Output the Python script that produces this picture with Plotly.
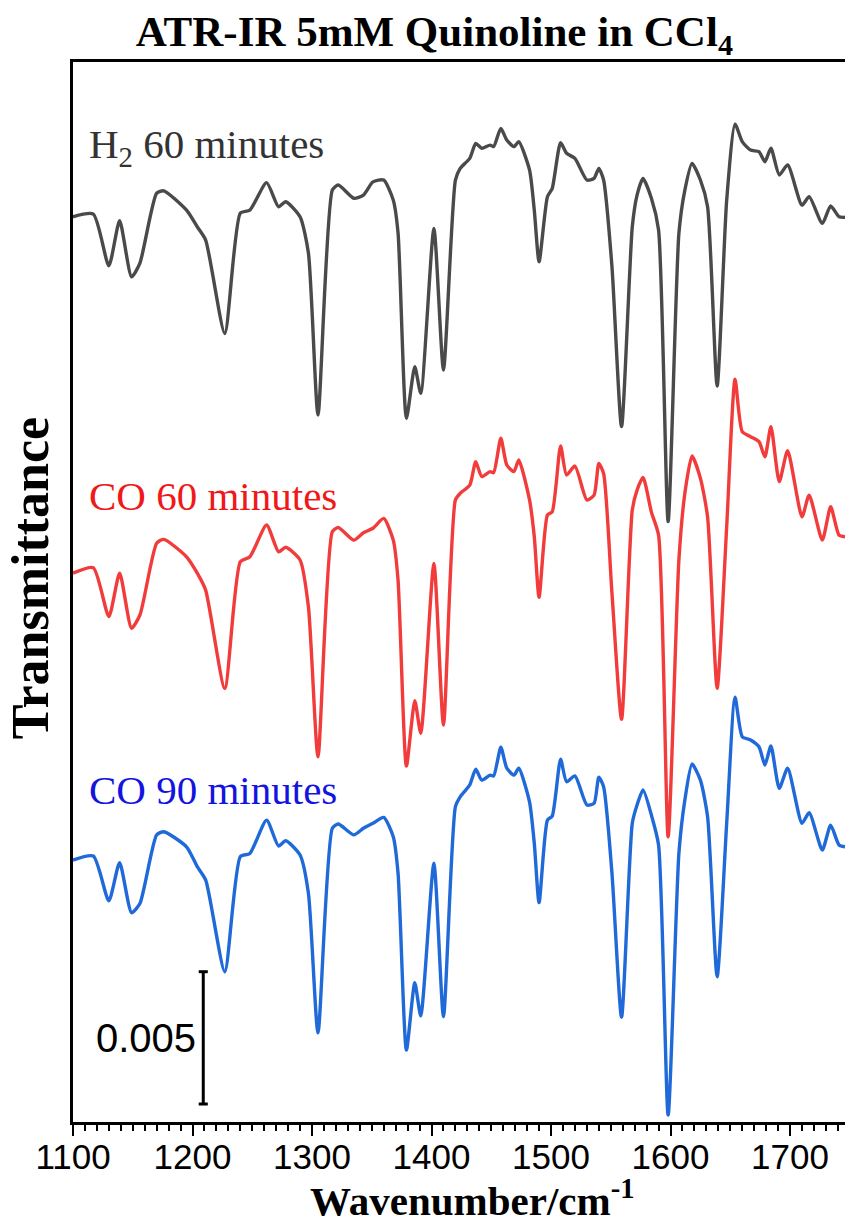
import plotly.graph_objects as go

# Wavenumber grid (cm^-1)
wavenumber = [1100, 1117, 1130, 1139, 1149, 1156, 1170, 1176, 1195, 1204,
              1211, 1227, 1240, 1248, 1262, 1272, 1278, 1290, 1297, 1305,
              1317, 1322, 1335, 1343, 1351, 1360, 1368, 1372, 1379, 1386,
              1391, 1402, 1410, 1420, 1424, 1432, 1437, 1442, 1449, 1452,
              1458, 1463, 1469, 1473, 1482, 1486, 1490, 1497, 1501, 1508,
              1513, 1520, 1530, 1536, 1540, 1544, 1551, 1559, 1568, 1572,
              1577, 1584, 1590, 1598, 1607, 1612, 1618, 1625, 1631, 1639,
              1647, 1654, 1660, 1667, 1674, 1679, 1684, 1691, 1698, 1710,
              1716, 1727, 1734, 1741, 1746]

# Transmittance (x 10^-3, stacked with offsets as plotted)
h2_60 = [34.21, 34.31, 32.36, 34.06, 31.94, 32.46, 35.10, 35.19, 34.46, 33.83,
         33.33, 29.80, 34.35, 34.46, 35.50, 34.59, 34.78, 34.21, 32.84, 26.72,
         35.22, 35.41, 34.91, 35.03, 35.53, 35.60, 34.84, 33.60, 26.59, 28.54,
         27.54, 33.77, 28.42, 35.60, 36.04, 36.42, 36.98, 36.80, 36.92, 36.86,
         37.55, 37.11, 36.86, 37.05, 35.98, 34.46, 32.51, 34.97, 35.28, 37.01,
         36.61, 36.42, 35.60, 35.66, 36.04, 35.60, 32.32, 26.28, 33.83, 35.03,
         35.66, 34.91, 33.71, 22.69, 33.58, 35.22, 36.23, 35.60, 34.59, 27.81,
         34.84, 37.71, 37.05, 36.73, 36.67, 36.29, 36.80, 35.79, 36.17, 34.65,
         34.97, 33.96, 34.62, 34.21, 34.19]

co_60 = [20.74, 20.95, 19.10, 20.74, 18.66, 19.16, 21.87, 22.02, 21.36, 20.74,
         20.10, 16.39, 21.17, 21.36, 22.56, 21.55, 21.72, 21.24, 19.47, 13.80,
         22.31, 22.47, 21.99, 22.27, 22.44, 22.81, 21.99, 20.48, 13.45, 15.92,
         14.69, 21.11, 15.00, 23.51, 23.76, 24.07, 24.95, 24.39, 24.58, 24.54,
         25.84, 24.83, 24.58, 25.02, 23.51, 22.12, 19.83, 22.94, 23.06, 25.55,
         24.45, 24.79, 23.51, 23.69, 24.89, 24.51, 19.98, 15.22, 23.13, 23.88,
         24.36, 23.05, 22.18, 10.78, 21.24, 23.76, 25.17, 24.33, 22.87, 16.39,
         22.50, 28.07, 26.09, 25.90, 25.71, 25.14, 26.28, 24.20, 25.37, 22.87,
         23.69, 21.99, 23.25, 22.18, 22.12]

co_90 = [9.90, 10.05, 8.36, 9.80, 7.91, 8.26, 10.85, 10.97, 10.40, 9.65,
         9.15, 5.68, 10.03, 10.15, 11.41, 10.43, 10.63, 10.09, 8.64, 3.37,
         11.10, 11.26, 10.85, 11.10, 11.29, 11.51, 10.78, 9.40, 2.72, 5.26,
         4.01, 9.78, 3.98, 11.92, 12.29, 12.74, 13.33, 12.92, 13.11, 13.08,
         14.16, 13.37, 13.11, 13.37, 12.10, 10.53, 8.29, 11.41, 11.56, 13.71,
         12.86, 13.08, 11.98, 12.04, 13.03, 12.67, 9.40, 3.96, 11.29, 11.98,
         12.55, 11.60, 10.47, 0.26, 10.15, 12.17, 13.53, 12.92, 11.54, 5.49,
         11.29, 16.05, 14.56, 14.44, 14.18, 13.49, 14.21, 12.61, 13.37, 11.29,
         11.69, 10.28, 11.22, 10.47, 10.40]

series_names = ["H<sub>2</sub> 60 minutes", "CO 60 minutes", "CO 90 minutes"]
series_values = [h2_60, co_60, co_90]
line_colors = ["#4a4a4a", "#f23c3c", "#1f6ad8"]
label_colors = ["#333333", "#f01818", "#1414e0"]
label_y = [36.85, 23.66, 12.55]

x_ticks = [1100, 1200, 1300, 1400, 1500, 1600, 1700]
scale_bar_x = 1209
scale_bar_y0 = 0.68
scale_bar_len = 5.0   # 0.005 in units of 10^-3

fig = go.Figure()
for name, vals, col in zip(series_names, series_values, line_colors):
    fig.add_trace(go.Scatter(x=wavenumber, y=vals, mode="lines", name=name,
                             line=dict(color=col, width=3.4, shape="spline", smoothing=0.6),
                             showlegend=False, hoverinfo="skip"))

serif = "Liberation Serif, Times New Roman, serif"
ann = []
for name, ly, lc in zip(series_names, label_y, label_colors):
    ann.append(dict(x=1112, y=ly, xref="x", yref="y", text=name, showarrow=False,
                    xanchor="left", yanchor="middle",
                    font=dict(family=serif, size=41, color=lc)))

# scale bar label
ann.append(dict(x=scale_bar_x, y=scale_bar_y0 + scale_bar_len / 2, xref="x", yref="y",
                text="0.005", showarrow=False, xanchor="right", yanchor="middle", xshift=-5,
                font=dict(family="Liberation Sans, Arial, sans-serif", size=40, color="black")))
# axis titles
ann.append(dict(x=0.517, y=-0.0717, xref="paper", yref="paper",
                text="<b>Wavenumber/cm<sup>-1</sup></b>", showarrow=False,
                xanchor="center", yanchor="middle",
                font=dict(family=serif, size=41, color="black")))
ann.append(dict(x=-0.0555, y=0.513, xref="paper", yref="paper",
                text="<b>Transmittance</b>", showarrow=False, textangle=-90,
                xanchor="center", yanchor="middle",
                font=dict(family=serif, size=52, color="black")))

cap = 3.8
shapes = [
    dict(type="line", xref="x", yref="y", x0=scale_bar_x, x1=scale_bar_x,
         y0=scale_bar_y0, y1=scale_bar_y0 + scale_bar_len, line=dict(color="black", width=3)),
    dict(type="line", xref="x", yref="y", x0=scale_bar_x - cap, x1=scale_bar_x + cap,
         y0=scale_bar_y0, y1=scale_bar_y0, line=dict(color="black", width=3)),
    dict(type="line", xref="x", yref="y", x0=scale_bar_x - cap, x1=scale_bar_x + cap,
         y0=scale_bar_y0 + scale_bar_len, y1=scale_bar_y0 + scale_bar_len,
         line=dict(color="black", width=3)),
]

fig.update_layout(
    width=845, height=1224,
    margin=dict(l=73, r=0, t=62, b=102, pad=0),
    paper_bgcolor="white", plot_bgcolor="white",
    title=dict(text="<b>ATR-IR 5mM Quinoline in CCl<sub>4</sub></b>",
               x=0.514, xanchor="center", y=1 - 31 / 1224, yanchor="middle",
               xref="container", yref="container",
               font=dict(family=serif, size=43, color="black")),
    annotations=ann,
    shapes=shapes,
    xaxis=dict(range=[1100, 1746], showgrid=False, zeroline=False,
               showline=True, linecolor="black", linewidth=3, mirror=True,
               ticks="outside", ticklen=11, tickwidth=2, tickcolor="black",
               ticklabelstandoff=-9,
               tickvals=x_ticks, ticktext=[str(t) for t in x_ticks],
               tickfont=dict(family="Liberation Sans Narrow, Arial Narrow, Liberation Sans, sans-serif",
                             size=35, color="black"),
               minor=dict(dtick=10, tick0=1100, ticks="outside", ticklen=6,
                          tickwidth=1.5, tickcolor="black", showgrid=False)),
    yaxis=dict(range=[0, 40.06], showgrid=False, zeroline=False,
               showline=True, linecolor="black", linewidth=3, mirror=False,
               showticklabels=False, ticks=""),
)

fig.write_html("out.html")
